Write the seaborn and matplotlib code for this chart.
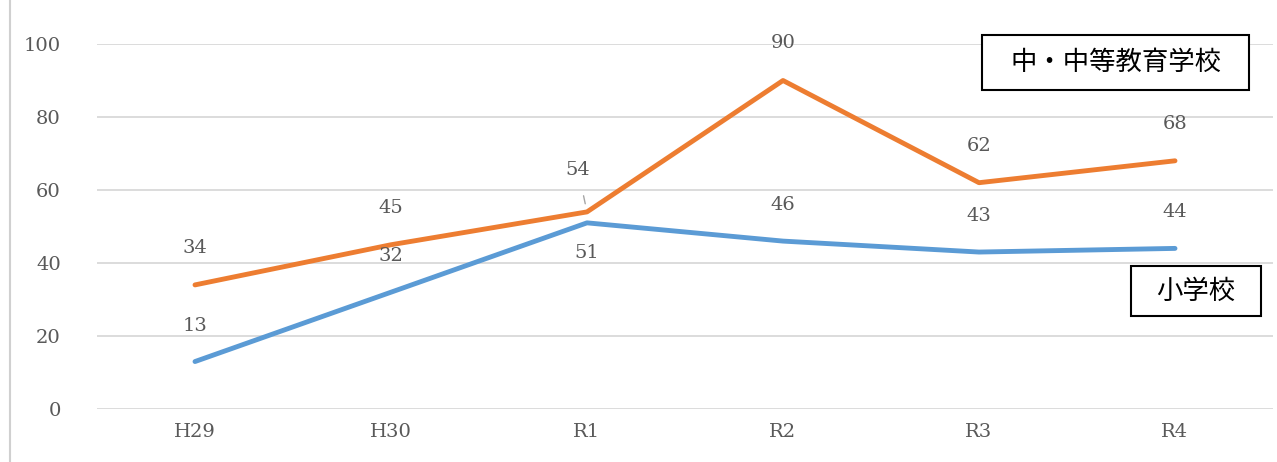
import matplotlib
matplotlib.use("Agg")
import matplotlib.pyplot as plt
import seaborn as sns
import pandas as pd
from matplotlib.lines import Line2D
from matplotlib.patches import Rectangle

years = ["H29", "H30", "R1", "R2", "R3", "R4"]
chu = [34, 45, 54, 90, 62, 68]
sho = [13, 32, 51, 46, 43, 44]
name_chu = "中・中等教育学校"
name_sho = "小学校"

ORANGE = "#ED7D31"
BLUE = "#5B9BD5"
GRAY = "#595959"
W, H = 1277, 462

sns.set_theme(style="white")
plt.rcParams["font.family"] = ["DejaVu Serif", "Noto Sans CJK JP"]

df = pd.DataFrame({
    "year": years * 2,
    "value": chu + sho,
    "school": [name_chu] * len(years) + [name_sho] * len(years),
})

fig = plt.figure(figsize=(W / 100, H / 100), dpi=100)
ax = fig.add_axes([97 / W, 1 - 409 / H, 1176 / W, 365 / H])

sns.lineplot(data=df, x="year", y="value", hue="school", sort=False,
             palette={name_chu: ORANGE, name_sho: BLUE},
             linewidth=3.5, legend=False, ax=ax)

ax.set_xlim(-0.5, len(years) - 0.5)
ax.set_ylim(0, 100)
ax.set_yticks(range(0, 101, 20))
ax.yaxis.grid(True, color="#d9d9d9", linewidth=1.3)
ax.set_axisbelow(True)
for s in ax.spines.values():
    s.set_visible(False)
ax.set_xlabel("")
ax.set_ylabel("")
ax.tick_params(axis="both", length=0, labelsize=14, labelcolor=GRAY)
ax.tick_params(axis="y", pad=26)
ax.tick_params(axis="x", pad=10)

# data labels
for i, v in enumerate(chu):
    if years[i] == "R1":
        ax.annotate(str(v), (i, v), xytext=(-9, 42), textcoords="offset pixels",
                    ha="center", va="center", fontsize=14, color=GRAY,
                    arrowprops=dict(arrowstyle="-", color="#a6a6a6", lw=1,
                                    shrinkA=10, shrinkB=6))
    else:
        ax.annotate(str(v), (i, v), xytext=(0, 37), textcoords="offset pixels",
                    ha="center", va="center", fontsize=14, color=GRAY,
                    annotation_clip=False)
for i, v in enumerate(sho):
    dy = -30 if years[i] == "R1" else 36
    ax.annotate(str(v), (i, v), xytext=(0, dy), textcoords="offset pixels",
                ha="center", va="center", fontsize=14, color=GRAY,
                annotation_clip=False)


# series name boxes (pixel rectangles of the reference)
def name_box(text, x0, y0, x1, y1):
    fig.add_artist(Rectangle((x0 / W, 1 - y1 / H), (x1 - x0) / W, (y1 - y0) / H,
                             transform=fig.transFigure, facecolor="white",
                             edgecolor="black", linewidth=1.5))
    fig.text((x0 + x1) / 2 / W, 1 - (y0 + y1) / 2 / H, text, ha="center",
             va="center", fontsize=19, color="black")


name_box(name_chu, 982, 35, 1249, 90)
name_box(name_sho, 1131, 266, 1261, 316)

# outer frame line on the left
fig.add_artist(Line2D([10 / W, 10 / W], [0, 1], color="#d0d0d0", linewidth=1.5))

fig.savefig("out.png", dpi=100)
